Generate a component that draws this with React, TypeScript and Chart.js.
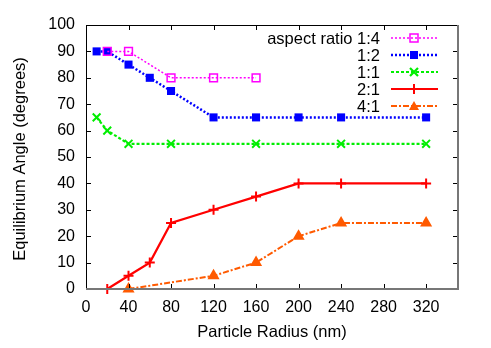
import React, { useEffect, useRef } from "react";
import { Chart, registerables } from "chart.js";

Chart.register(...registerables);

const radii14 = [20, 40, 80, 120, 160];
const angles14 = [90, 90, 80, 80, 80];
const radii12 = [10, 20, 40, 60, 80, 120, 160, 200, 240, 320];
const angles12 = [90, 90, 85, 80, 75, 65, 65, 65, 65, 65];
const radii11 = [10, 20, 40, 80, 160, 240, 320];
const angles11 = [65, 60, 55, 55, 55, 55, 55];
const radii21 = [20, 40, 60, 80, 120, 160, 200, 240, 320];
const angles21 = [0, 5, 10, 25, 30, 35, 40, 40, 40];
const radii41 = [40, 120, 160, 200, 240, 320];
const angles41 = [0, 5, 10, 20, 25, 25];

const seriesLabels = ["aspect ratio 1:4", "1:2", "1:1", "2:1", "4:1"];
const xTicks = [0, 40, 80, 120, 160, 200, 240, 280, 320];
const yTicks = [0, 10, 20, 30, 40, 50, 60, 70, 80, 90, 100];
const xTitle = "Particle Radius (nm)";
const yTitle = "Equilibrium Angle (degrees)";

const FONT = "'Liberation Sans', Arial, sans-serif";
const colors = ["#ff00ff", "#0000ff", "#00ee00", "#ff0000", "#ff5a00"];
const dashes = [[2, 2], [2, 2], [3, 2], [], [6, 2, 2, 2]];
const widths = [1.5, 2.5, 2.2, 2.2, 2];
const styles = ["rect", "rect", "crossRot", "cross", "triangle"];

const zip = (xs: number[], ys: number[]) => xs.map((x, i) => ({ x, y: ys[i] }));

function drawMarker(ctx: CanvasRenderingContext2D, i: number, x: number, y: number) {
  ctx.save();
  ctx.setLineDash([]);
  ctx.strokeStyle = colors[i];
  ctx.fillStyle = colors[i];
  if (i === 0) {
    ctx.lineWidth = 1.5;
    ctx.strokeRect(x - 4, y - 4, 8, 8);
  } else if (i === 1) {
    ctx.fillRect(x - 4, y - 4, 8, 8);
  } else if (i === 2) {
    ctx.lineWidth = 2.2;
    ctx.beginPath();
    ctx.moveTo(x - 4, y - 4); ctx.lineTo(x + 4, y + 4);
    ctx.moveTo(x + 4, y - 4); ctx.lineTo(x - 4, y + 4);
    ctx.stroke();
  } else if (i === 3) {
    ctx.lineWidth = 2;
    ctx.beginPath();
    ctx.moveTo(x, y - 5); ctx.lineTo(x, y + 5);
    ctx.moveTo(x - 5, y); ctx.lineTo(x + 5, y);
    ctx.stroke();
  } else {
    ctx.beginPath();
    ctx.moveTo(x, y - 5); ctx.lineTo(x + 5, y + 4); ctx.lineTo(x - 5, y + 4);
    ctx.closePath();
    ctx.fill();
  }
  ctx.restore();
}

const framePlugin = {
  id: "frame",
  afterDatasetsDraw(chart: any) {
    const { ctx, chartArea: a, scales } = chart;
    const xs = scales.x, ys = scales.y;
    ctx.save();
    ctx.strokeStyle = "#000";
    ctx.lineWidth = 1;
    ctx.beginPath();
    const L = 5;
    xTicks.forEach((v) => {
      const px = Math.round(xs.getPixelForValue(v)) + 0.5;
      ctx.moveTo(px, a.bottom); ctx.lineTo(px, a.bottom - L);
      ctx.moveTo(px, a.top); ctx.lineTo(px, a.top + L);
    });
    yTicks.forEach((v) => {
      const py = Math.round(ys.getPixelForValue(v)) + 0.5;
      ctx.moveTo(a.left, py); ctx.lineTo(a.left + L, py);
      ctx.moveTo(a.right, py); ctx.lineTo(a.right - L, py);
    });
    ctx.stroke();
    ctx.beginPath();
    ctx.strokeStyle = "#000";
    ctx.lineWidth = 1;
    ctx.moveTo(a.left + 0.5, a.bottom); ctx.lineTo(a.left + 0.5, a.top + 0.5); ctx.lineTo(a.right, a.top + 0.5);
    ctx.stroke();
    ctx.beginPath();
    ctx.strokeStyle = "#777";
    ctx.lineWidth = 2;
    ctx.moveTo(a.left, a.bottom); ctx.lineTo(a.right, a.bottom); ctx.lineTo(a.right, a.top);
    ctx.stroke();

    ctx.font = `16.5px ${FONT}`;
    ctx.fillStyle = "#000";
    ctx.textAlign = "right";
    ctx.textBaseline = "middle";
    seriesLabels.forEach((lab, i) => {
      const y = 38 + i * 17;
      ctx.fillText(lab, 380, y + 1);
      ctx.save();
      ctx.strokeStyle = colors[i];
      ctx.lineWidth = widths[i];
      ctx.setLineDash(dashes[i]);
      ctx.beginPath();
      ctx.moveTo(391, y); ctx.lineTo(438, y);
      ctx.stroke();
      ctx.restore();
      drawMarker(ctx, i, 414, y);
    });

    ctx.textAlign = "center";
    ctx.textBaseline = "alphabetic";
    ctx.fillText(xTitle, (a.left + a.right) / 2, 337);
    ctx.save();
    ctx.translate(25, 159);
    ctx.rotate(-Math.PI / 2);
    ctx.fillText(yTitle, 0, 0);
    ctx.restore();
    ctx.restore();
  },
};

export default function App() {
  const ref = useRef<HTMLCanvasElement | null>(null);
  useEffect(() => {
    if (!ref.current) return;
    const data = [
      zip(radii14, angles14),
      zip(radii12, angles12),
      zip(radii11, angles11),
      zip(radii21, angles21),
      zip(radii41, angles41),
    ];
    const chart = new Chart(ref.current, {
      type: "line",
      data: {
        datasets: data.map((d, i) => ({
          label: seriesLabels[i],
          data: d,
          borderColor: colors[i],
          backgroundColor: i === 0 ? "rgba(0,0,0,0)" : colors[i],
          borderWidth: widths[i],
          borderDash: dashes[i],
          pointStyle: styles[i] as any,
          pointRadius: i === 0 ? 5.5 : i === 1 ? 5.7 : i === 2 ? 5.5 : i === 3 ? 5 : 5,
          pointBorderWidth: i === 0 ? 1.5 : i === 1 ? 0 : 2,
          pointBorderColor: colors[i],
          pointBackgroundColor: i === 0 ? "rgba(0,0,0,0)" : colors[i],
          tension: 0,
          fill: false,
        })),
      },
      options: {
        animation: false,
        responsive: false,
        clip: false as any,
        layout: { padding: { left: 0, top: 25, right: 33, bottom: 0 } },
        plugins: { legend: { display: false }, tooltip: { enabled: false } },
        scales: {
          x: {
            type: "linear",
            min: 0,
            max: 350,
            afterBuildTicks: (s: any) => { s.ticks = xTicks.map((v) => ({ value: v })); },
            afterFit: (s: any) => { s.height = 59; },
            grid: { display: false, drawTicks: false },
            border: { display: false },
            ticks: { color: "#000", font: { size: 16, family: FONT }, padding: 9, maxRotation: 0, autoSkip: false },
          },
          y: {
            type: "linear",
            min: 0,
            max: 100,
            afterBuildTicks: (s: any) => { s.ticks = yTicks.map((v) => ({ value: v })); },
            afterFit: (s: any) => { s.width = 86; },
            grid: { display: false, drawTicks: false },
            border: { display: false },
            ticks: { color: "#000", font: { size: 16, family: FONT }, padding: 11, autoSkip: false },
          },
        },
      },
      plugins: [framePlugin],
    });
    return () => chart.destroy();
  }, []);
  return (
    <div style={{ position: "fixed", left: 0, top: 0, width: 491, height: 348, background: "#fff" }}>
      <canvas ref={ref} width={491} height={348} style={{ display: "block" }} />
    </div>
  );
}
